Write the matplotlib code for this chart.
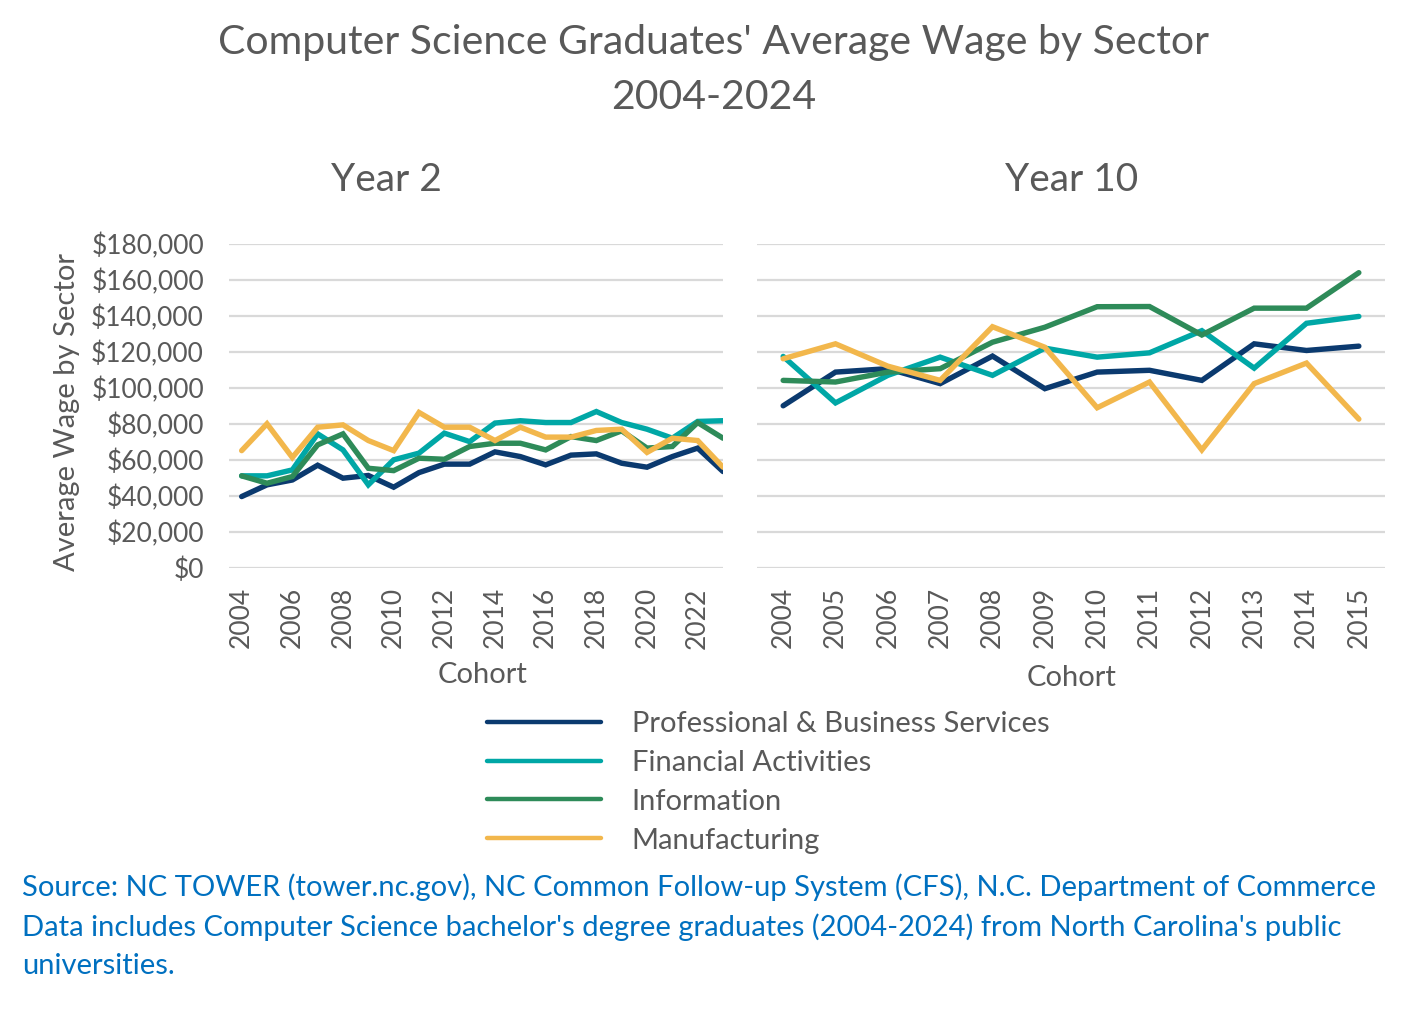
import numpy as np
import matplotlib
matplotlib.use("Agg")
import matplotlib.pyplot as plt
from matplotlib.ticker import FuncFormatter

plt.rcParams["font.family"] = ["Lato", "DejaVu Sans"]

# Year 2 panel (cohorts 2004-2023)
years_y2 = list(range(2004, 2024))
prof_y2 = [39500, 46000, 48700, 56900, 49700, 51200, 44700, 52800, 57500, 57500,
           64300, 61700, 57100, 62500, 63200, 58000, 55800, 61700, 66400, 53400]
fin_y2 = [51000, 51000, 54300, 74300, 65400, 46000, 59900, 63600, 74700, 70000,
          80300, 81600, 80600, 80600, 86700, 80600, 76900, 71900, 81200, 81600]
info_y2 = [51000, 46900, 50600, 68200, 74300, 55200, 53900, 60800, 60200, 67300,
           69100, 69100, 65400, 72800, 70600, 76000, 66400, 67300, 80600, 71900]
manu_y2 = [65000, 79900, 61200, 78000, 79300, 70600, 65000, 86200, 78000, 78000,
           70600, 78000, 72500, 72500, 76200, 76900, 64000, 71900, 70600, 55800]

# Year 10 panel (cohorts 2004-2015)
years_y10 = [str(y) for y in range(2004, 2016)]
prof_y10 = [89900, 108600, 110500, 102200, 117500, 99400, 108600, 109600, 104000, 124300, 120600, 123000]
fin_y10 = [117300, 91500, 106800, 116900, 106800, 121900, 116900, 119300, 131600, 110800, 135700, 139500]
info_y10 = [104000, 103100, 108600, 110500, 125200, 133500, 144900, 145000, 129200, 144100, 144100, 163800]
manu_y10 = [116000, 124300, 111900, 104000, 133800, 122400, 88800, 103100, 65400, 102200, 113600, 82500]

sectors = ["Professional & Business Services", "Financial Activities", "Information", "Manufacturing"]
colors = ["#0B3A6F", "#00A7A6", "#2E8B59", "#F2B74C"]

text_gray = "#595959"
grid_gray = "#D9D9D9"

fig = plt.figure(figsize=(14.28, 10.28), dpi=100)
W, H = 1428, 1028

ax1 = fig.add_axes([229 / W, 1 - 567.7 / H, (723 - 229) / W, (567.7 - 243.5) / H])
ax2 = fig.add_axes([757 / W, 1 - 567.7 / H, (1385 - 757) / W, (567.7 - 243.5) / H])

for vals, c in zip([prof_y2, fin_y2, info_y2, manu_y2], colors):
    ax1.plot(years_y2, vals, color=c, lw=3.9, solid_joinstyle="miter", solid_capstyle="round")
x10 = np.arange(len(years_y10))
lines = []
for vals, c in zip([prof_y10, fin_y10, info_y10, manu_y10], colors):
    ln, = ax2.plot(x10, vals, color=c, lw=3.9, solid_joinstyle="miter", solid_capstyle="round")
    lines.append(ln)

ax1.set_xlim(2003.5, 2023.0)
ax1.set_xticks(range(2004, 2023, 2))
ax2.set_xlim(-0.5, len(years_y10) - 0.5)
ax2.set_xticks(x10)
ax2.set_xticklabels(years_y10)

for ax in (ax1, ax2):
    ax.set_ylim(0, 180000)
    ax.set_yticks(range(0, 180001, 20000))
    ax.grid(axis="y", color=grid_gray, lw=1.6)
    ax.set_axisbelow(True)
    for s in ax.spines.values():
        s.set_visible(False)
    ax.tick_params(length=0, colors=text_gray, labelsize=19)
    ax.tick_params(axis="x", rotation=90, pad=14)
    for lab in ax.get_xticklabels():
        lab.set_va("top")

ax1.yaxis.set_major_formatter(FuncFormatter(lambda v, p: "${:,.0f}".format(v)))
ax1.tick_params(axis="y", pad=18)
ax2.tick_params(axis="y", labelleft=False)

fig.text(714 / W, 1 - 70 / H, "Computer Science Graduates' Average Wage by Sector\n2004-2024",
         ha="center", va="center", fontsize=29.5, color=text_gray, linespacing=1.57)
fig.text(386 / W, 1 - 180 / H, "Year 2", ha="center", va="center", fontsize=28, color=text_gray)
fig.text(1072 / W, 1 - 180 / H, "Year 10", ha="center", va="center", fontsize=28, color=text_gray)
fig.text(67 / W, 1 - 412 / H, "Average Wage by Sector", ha="center", va="center",
         rotation=90, fontsize=21, color=text_gray)
fig.text(483 / W, 1 - 675 / H, "Cohort", ha="center", va="center", fontsize=21, color=text_gray)
fig.text(1072 / W, 1 - 678 / H, "Cohort", ha="center", va="center", fontsize=21, color=text_gray)

leg = fig.legend(lines, sectors, loc="upper left", bbox_to_anchor=(487 / W, 1 - 711 / H),
                 frameon=False, fontsize=21, handlelength=3.9, handletextpad=1.06,
                 labelspacing=0.44, borderpad=0, borderaxespad=0, labelcolor=text_gray)
for h in leg.get_lines():
    h.set_linewidth(3.2)

source = ("Source: NC TOWER (tower.nc.gov), NC Common Follow-up System (CFS), N.C. Department of Commerce\n"
          "Data includes Computer Science bachelor's degree graduates (2004-2024) from North Carolina's public\n"
          "universities.")
fig.text(22 / W, 1 - 873 / H, source, ha="left", va="top", fontsize=20.95, color="#0070C0",
         linespacing=1.56)

fig.savefig("out.png", dpi=100, facecolor="white")
